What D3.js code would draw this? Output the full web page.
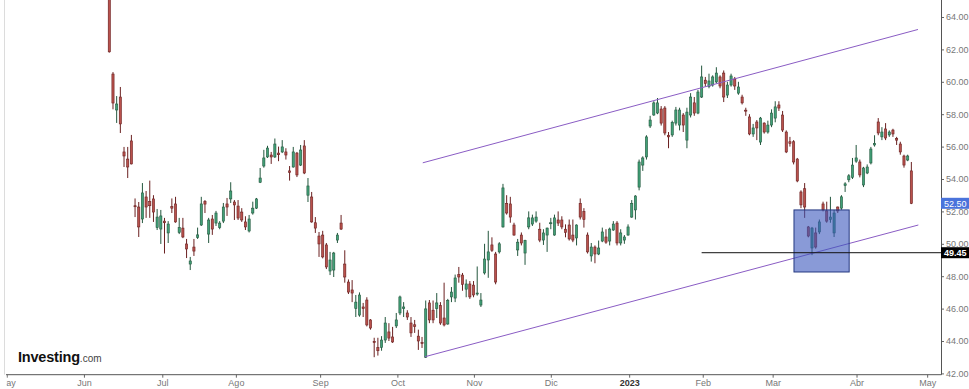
<!DOCTYPE html>
<html><head><meta charset="utf-8">
<script src="https://cdn.jsdelivr.net/npm/d3@7"></script>
<style>html,body{margin:0;padding:0;background:#fff;}svg{display:block;}</style>
</head><body>
<svg id="chart" width="969" height="389"></svg>
<script>
// ---- data (candle index = trading day from 2022-06-09) ----
const openV = [65.6,60.48,58.26,59.06,55.67,55.23,56.35,52.35,52.27,51.53,52.89,52.6,52.77,51.0,50.91,51.4,50.67,52.3,52.46,50.7,
50.97,49.99,48.75,49.8,50.4,51.16,52.6,50.6,51.53,51.28,51.0,51.4,52.46,52.77,52.58,52.33,51.96,51.35,50.79,51.9,
52.2,53.8,54.8,55.36,55.48,55.36,55.6,55.67,55.67,54.5,54.74,55.6,54.86,56.04,53.0,52.89,51.3,50.48,50.54,49.93,
48.32,48.38,50.23,51.28,48.75,47.64,47.15,46.0,45.6,46.1,46.53,45.3,43.98,43.6,43.6,44.06,44.56,44.25,44.93,45.73,
46.0,45.73,45.11,45.0,44.3,43.9,43.0,46.35,45.9,46.0,46.2,45.42,45.05,46.72,46.65,48.1,48.07,47.2,47.52,47.45,
46.9,46.22,48.2,49.0,49.93,49.37,49.5,51.04,52.5,52.46,51.16,49.62,50.54,49.43,51.04,51.22,51.4,50.9,50.23,50.54,
51.3,50.54,51.47,51.47,50.9,51.16,50.54,50.36,52.5,52.0,50.54,49.25,49.8,49.37,50.17,50.42,50.17,50.85,51.28,50.05,
50.23,50.54,51.65,52.09,53.5,54.86,55.36,57.27,57.95,58.07,58.32,58.38,56.7,56.72,57.45,57.33,57.95,56.4,57.95,58.7,
58.07,59.06,60.1,59.7,59.8,59.99,60.3,60.54,59.18,59.8,60.17,59.3,59.06,58.25,57.83,56.78,57.52,56.28,57.45,56.9,
57.33,57.76,58.57,57.95,56.9,56.3,56.3,55.23,53.2,53.4,51.04,49.74,50.67,50.73,52.46,52.03,51.5,50.67,52.27,52.2,
53.6,53.95,54.1,55.1,55.05,53.63,54.37,54.99,56.1,57.52,56.6,57.09,56.72,57.02,56.5,56.16,55.42,55.17,54.5];
const highV = [65.9,60.6,59.12,59.68,55.98,55.98,56.72,52.8,52.58,53.75,53.26,53.9,53.0,52.15,52.09,51.6,51.4,52.8,52.9,51.6,
51.6,50.3,49.19,50.3,51.0,52.9,52.7,51.6,51.78,52.03,51.4,52.52,52.83,53.8,52.7,52.7,52.2,51.7,51.78,52.6,
52.83,54.68,55.8,56.05,55.67,56.5,56.0,56.4,55.9,54.8,55.98,55.67,56.1,56.4,54.06,53.2,51.65,50.73,50.8,50.05,
49.5,49.5,50.67,51.78,49.6,47.8,47.76,46.84,47.0,46.35,46.7,45.35,44.2,44.2,44.3,45.48,45.1,44.87,45.73,46.8,
46.4,45.9,45.48,45.3,44.7,44.25,46.5,46.53,46.5,46.96,46.4,47.6,46.6,47.33,48.1,48.57,48.2,47.8,47.7,47.7,
48.6,46.96,50.0,50.8,50.4,49.5,50.1,53.7,53.0,52.9,51.3,50.3,50.7,50.25,52.0,51.8,52.0,51.3,50.9,51.0,
51.6,51.8,52.0,51.7,51.2,51.5,51.5,51.2,52.8,52.2,50.7,50.05,49.9,50.2,51.0,50.9,51.0,51.4,51.4,50.9,
50.54,51.2,52.7,53.0,55.2,55.4,56.7,57.9,58.8,59.0,58.5,58.5,56.9,57.6,58.45,58.4,58.07,58.4,59.3,59.06,
59.5,61.0,60.3,60.5,60.4,60.9,60.4,60.7,60.0,60.5,60.3,60.0,59.2,58.4,58.0,57.4,57.64,57.83,57.5,57.6,
58.3,58.8,58.8,58.2,57.0,56.6,56.4,55.3,53.3,53.75,51.1,51.04,51.0,51.5,52.6,52.6,52.9,52.09,52.3,53.0,
53.8,54.3,55.3,56.1,55.2,54.75,54.9,55.98,56.7,57.76,57.2,57.45,57.0,57.1,56.6,56.3,55.5,55.5,55.05];
const lowV = [61.8,58.3,57.46,56.84,54.74,54.06,54.9,51.65,50.42,51.28,51.6,51.6,51.35,50.85,49.99,49.4,50.05,51.9,51.3,50.6,
50.35,49.12,48.38,49.25,50.3,51.1,51.9,50.05,50.55,51.1,50.9,51.28,51.72,52.52,51.47,51.47,51.35,50.85,50.7,51.8,
52.15,53.75,54.7,55.3,54.93,55.3,55.1,55.6,55.2,53.9,54.7,54.12,54.8,54.3,52.58,51.3,50.67,49.19,49.1,48.44,
48.07,47.95,50.05,50.85,47.6,46.9,46.4,45.48,45.5,45.48,44.9,44.7,43.0,43.1,43.4,43.88,44.0,43.88,44.8,45.6,
45.48,45.3,44.25,44.5,43.45,43.57,42.95,45.1,45.1,45.42,45.0,44.9,45.0,46.4,46.4,47.6,47.1,46.7,46.6,46.7,
46.8,46.1,48.1,47.9,49.5,47.5,49.4,51.0,51.8,51.3,50.5,49.25,49.9,48.7,50.9,51.1,51.3,50.1,49.93,49.5,
50.9,50.5,51.1,50.9,50.4,50.2,50.1,49.9,51.5,51.0,49.4,48.9,48.8,49.3,50.1,50.0,49.9,50.8,49.9,49.9,
50.0,50.5,51.6,51.5,53.3,54.5,55.2,57.15,57.9,58.0,57.3,56.7,55.9,56.6,57.3,57.0,56.9,55.9,57.8,57.9,
58.0,59.0,59.7,59.6,59.7,59.9,59.6,58.75,59.0,59.7,59.5,59.2,58.6,57.9,56.7,56.6,56.4,56.1,56.8,56.8,
57.2,57.5,58.2,56.9,55.6,56.0,54.9,53.8,52.2,51.6,50.4,49.3,49.7,50.6,52.0,51.3,51.3,50.42,51.9,52.1,
53.2,53.8,54.0,55.0,54.1,53.5,54.3,54.9,56.0,56.7,56.4,56.4,56.6,56.6,56.1,55.5,54.7,55.1,52.45];
const closeV = [61.85,58.69,58.63,57.40,55.42,54.74,54.93,52.3,51.04,53.14,52.27,52.35,51.96,51.65,51.72,51.3,51.22,52.2,51.35,51.0,
50.42,49.68,48.94,49.55,50.55,52.46,52.45,51.47,50.91,51.9,51.28,52.27,52.27,53.26,52.4,51.59,51.47,51.04,51.53,52.2,
52.77,54.06,55.3,55.91,55.36,56.16,55.5,55.98,55.48,54.4,55.67,54.25,55.79,54.37,53.57,51.35,50.97,49.99,49.19,48.57,
49.0,49.43,50.54,50.91,47.95,47.02,46.96,46.4,46.84,46.0,44.99,44.8,43.9,43.4,44.06,45.11,44.18,43.94,45.3,46.72,
46.1,45.48,44.5,44.9,44.0,43.85,45.98,45.3,45.3,46.35,45.11,44.99,46.5,47.02,47.89,47.95,47.5,47.52,46.72,46.84,
46.96,46.53,49.06,49.5,49.6,47.64,50.0,53.45,51.9,51.65,50.54,50.1,50.05,50.2,51.6,51.6,51.65,50.23,50.67,50.97,
51.3,51.6,51.28,51.04,50.7,50.3,50.23,51.16,51.65,51.5,49.5,49.8,49.37,49.74,50.73,50.1,50.91,51.22,50.05,50.67,
50.42,51.04,52.5,52.95,55.05,55.3,56.6,57.64,58.7,58.7,57.45,56.84,56.6,57.5,58.26,58.26,57.33,58.13,59.06,58.07,
59.37,60.3,59.9,60.05,60.3,60.54,59.74,59.06,59.8,60.36,59.74,59.68,58.7,58.2,56.78,57.15,57.15,57.76,56.9,57.33,
58.07,58.45,58.38,57.02,55.67,56.2,55.05,53.88,52.4,52.27,50.48,50.97,49.8,51.35,52.09,51.4,51.65,51.9,52.03,52.9,
53.7,54.2,54.86,55.3,54.25,54.68,54.74,55.85,56.2,56.84,56.9,56.53,56.9,56.78,56.4,55.67,54.86,55.42,52.5];

const monthLabels = ["May","Jun","Jul","Ago","Sep","Oct","Nov","Dic","2023","Feb","Mar","Abr","May"];
const monthPos    = [-27.9,-6.9,14.4,34.4,57.3,78.3,99.1,120.0,141.3,161.3,180.3,203.1,222.3];
const priceTicks  = [42,44,46,48,50,52,54,56,58,60,62,64];

// drawings (candle index, price)
const channelUpper = [[85.2,55.0],[219.8,63.23]];
const channelLower = [[85.8,43.03],[219.9,51.16]];
const supportLevel = 49.45, supportStart = 161.0;
const lastPrice = 52.50;
const zoneBox = {i0:186.1, i1:201.1, hi:52.09, lo:48.26};

// ---- layout ----
const svg = d3.select("#chart");
const plotL = 6, plotR = 941, axisY = 374.7;
const x = d3.scaleLinear().domain([-28.08, 226.06]).range([plotL, plotR]);
const y = d3.scaleLinear().domain([42, 64]).range([373.4, 17]);
const font = "'Liberation Sans', Arial, sans-serif";

const defs = svg.append("defs");
defs.append("clipPath").attr("id","plot").append("rect").attr("x",plotL).attr("y",0).attr("width",plotR-plotL).attr("height",axisY);
// clip in the local (translated) coordinates of the bottom-axis group
defs.append("clipPath").attr("id","xlab").append("rect").attr("x",plotL+0.5).attr("y",-2).attr("width",969).attr("height",20);

// left light border
svg.append("line").attr("x1",4.5).attr("x2",4.5).attr("y1",0).attr("y2",axisY).attr("stroke","#dcdcdc");

const plot = svg.append("g").attr("clip-path","url(#plot)");

const candles = d3.range(openV.length).map(i => ({i, o:openV[i], h:highV[i], l:lowV[i], c:closeV[i]}));
const up = d => d.c >= d.o;
const cg = plot.append("g");
cg.selectAll("line.wick").data(candles).join("line").attr("class","wick")
  .attr("x1", d=>x(d.i)).attr("x2", d=>x(d.i))
  .attr("y1", d=>y(d.h)).attr("y2", d=>y(d.l))
  .attr("stroke", d=> up(d) ? "#24573e" : "#6a2020").attr("stroke-width",1);
cg.selectAll("rect.body").data(candles).join("rect").attr("class","body")
  .attr("x", d=>x(d.i)-1.1).attr("width",2.2)
  .attr("y", d=>y(Math.max(d.o,d.c)))
  .attr("height", d=>Math.max(1, Math.abs(y(d.o)-y(d.c))))
  .attr("fill", d=> up(d) ? "#41a077" : "#b9514c")
  .attr("stroke", d=> up(d) ? "#24573e" : "#6a2020").attr("stroke-width",0.6);

// channel lines
const ln = d3.line().x(d=>x(d[0])).y(d=>y(d[1]));
[channelUpper, channelLower].forEach(p =>
  plot.append("path").attr("d", ln(p)).attr("fill","none").attr("stroke","#8a5cc4").attr("stroke-width",1));

// zone box
plot.append("rect")
  .attr("x", x(zoneBox.i0)).attr("width", x(zoneBox.i1)-x(zoneBox.i0))
  .attr("y", y(zoneBox.hi)).attr("height", y(zoneBox.lo)-y(zoneBox.hi))
  .attr("fill","#3a57bd").attr("fill-opacity",0.6).attr("stroke","#243880").attr("stroke-width",1);

// support horizontal line
svg.append("line").attr("x1", x(supportStart)).attr("x2", plotR)
  .attr("y1", y(supportLevel)).attr("y2", y(supportLevel)).attr("stroke","#111").attr("stroke-width",1);

// right axis
const ra = svg.append("g").attr("transform",`translate(${plotR},0)`)
  .call(d3.axisRight(y).tickValues(priceTicks).tickSize(3).tickPadding(2).tickFormat(d3.format(".2f")));
ra.select(".domain").remove();
ra.selectAll("line").attr("stroke","#666");
ra.selectAll("text").attr("fill","#777").style("font-family",font).style("font-size","9px");
svg.append("line").attr("x1",plotR+0.5).attr("x2",plotR+0.5).attr("y1",0).attr("y2",axisY).attr("stroke","#555");

// bottom axis
const ba = svg.append("g").attr("transform",`translate(0,${axisY})`).attr("clip-path","url(#xlab)");
ba.call(d3.axisBottom(x).tickValues(monthPos).tickSize(3).tickPadding(2).tickFormat((d,i)=>monthLabels[i]));
ba.select(".domain").remove();
ba.selectAll("line").attr("stroke","#666");
ba.selectAll("text").attr("fill", (d,i)=> monthLabels[i]==="2023" ? "#333" : "#777")
  .style("font-weight",(d,i)=> monthLabels[i]==="2023" ? "bold" : "normal")
  .style("font-family",font).style("font-size","9px");
svg.append("line").attr("x1",plotL).attr("x2",plotR+0.5).attr("y1",axisY).attr("y2",axisY).attr("stroke","#555");

// price tags
function tag(v, fill, bold){
  const g = svg.append("g").attr("transform",`translate(${plotR},${y(v)})`);
  g.append("rect").attr("x",0).attr("y",-5.5).attr("width",28).attr("height",11).attr("fill",fill);
  g.append("text").attr("x",3).attr("y",3.3).attr("fill","#fff")
    .style("font-family",font).style("font-size","9px").style("font-weight",bold?"bold":"normal")
    .text(d3.format(".2f")(v));
}
tag(lastPrice, "#4a73db", false);
tag(supportLevel, "#000", true);

// logo
const logo = svg.append("text").attr("x",18).attr("y",362).attr("fill","#111").style("font-family",font);
logo.append("tspan").style("font-size","14.5px").style("font-weight","bold").style("letter-spacing","-0.2px").text("Investing");
logo.append("tspan").style("font-size","10px").attr("fill","#444").text(".com");
</script>
</body></html>
